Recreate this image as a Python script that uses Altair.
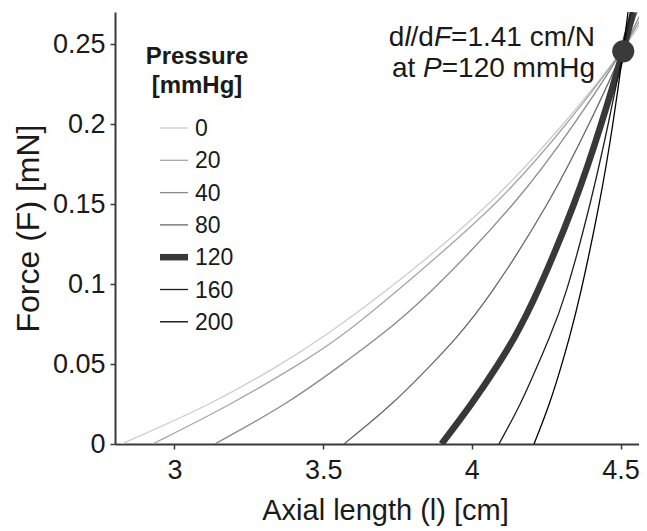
import altair as alt
import pandas as pd

# ---------------- data ----------------
pressures = ["0", "20", "40", "80", "120", "160", "200"]

len_0 = [2.821, 3.128, 3.360, 3.490, 3.758, 4.083, 4.310, 4.509, 4.590]
len_20 = [2.926, 3.195, 3.420, 3.550, 3.775, 4.105, 4.320, 4.509, 4.580]
len_40 = [3.135, 3.380, 3.565, 3.676, 3.842, 4.162, 4.345, 4.509, 4.570]
len_80 = [3.570, 3.735, 3.866, 3.943, 4.055, 4.268, 4.395, 4.509, 4.555]
len_120 = [3.898, 4.000, 4.090, 4.140, 4.212, 4.353, 4.436, 4.509, 4.542]
len_160 = [4.091, 4.165, 4.223, 4.258, 4.313, 4.403, 4.459, 4.509, 4.535]
len_200 = [4.209, 4.262, 4.303, 4.326, 4.362, 4.433, 4.475, 4.509, 4.525]

force_0 = [0, 0.025, 0.05, 0.0652, 0.1016, 0.1527, 0.2, 0.2454, 0.27]
force_20 = [0, 0.025, 0.05, 0.0652, 0.0996, 0.1527, 0.2, 0.2454, 0.27]
force_rest = [0, 0.025, 0.05, 0.0652, 0.0902, 0.1527, 0.2, 0.2454, 0.27]

point_len = [4.509]
point_force = [0.2454]

x_ticks = [3, 3.5, 4, 4.5]
y_ticks = [0, 0.05, 0.1, 0.15, 0.2, 0.25]

# ---------------- table ----------------
series = {
    "0": (len_0, force_0),
    "20": (len_20, force_20),
    "40": (len_40, force_rest),
    "80": (len_80, force_rest),
    "120": (len_120, force_rest),
    "160": (len_160, force_rest),
    "200": (len_200, force_rest),
}
rows = []
for p, (ls, fs) in series.items():
    for l, f in zip(ls, fs):
        rows.append({"P": p, "l": l, "F": f})
df = pd.DataFrame(rows)
pt = pd.DataFrame({"l": point_len, "F": point_force})

grays = ["#cdcdcd", "#a6a6a6", "#8a8a8a", "#666666", "#383838", "#1e1e1e", "#000000"]
THIN, THICK = 1.3, 6.5
HIGHLIGHT = "120"

FONT = "Liberation Sans"
TXT = "#1a1a1a"
AX = "#3a3a3a"

x_enc = alt.X("l:Q", scale=alt.Scale(domain=[2.8, 4.562], nice=False, zero=False),
              axis=alt.Axis(values=x_ticks, format="~g", title="Axial length (l) [cm]",
                            titleFontSize=29, titleFontWeight="normal", titleX=270, titleY=66,
                            titleBaseline="middle", titleAlign="center",
                            labelFontSize=27, labelPadding=8))
y_enc = alt.Y("F:Q", scale=alt.Scale(domain=[0, 0.27], nice=False),
              axis=alt.Axis(values=y_ticks, format="~g", title="Force (F) [mN]",
                            titleFontSize=32, titleFontWeight="normal", titleX=-87, titleY=216,
                            titleAngle=-90, titleBaseline="middle", titleAlign="center",
                            labelFontSize=27, labelPadding=5))

lines = alt.Chart(df).mark_line(interpolate="basis", clip=True).encode(
    x=x_enc,
    y=y_enc,
    color=alt.Color("P:N", scale=alt.Scale(domain=pressures, range=grays), legend=None),
    strokeWidth=alt.condition("datum.P === '%s'" % HIGHLIGHT, alt.value(THICK), alt.value(THIN)),
    order=alt.Order("F:Q"),
)

dot = alt.Chart(pt).mark_circle(size=490, opacity=1, color="#3a3a3a").encode(
    x="l:Q", y="F:Q")

# ---- legend (drawn as marks) ----
leg = []
leg.append(alt.Chart(pt).mark_text(text="Pressure", font=FONT, fontSize=24, fontWeight="bold",
                                   align="center", baseline="middle", color=TXT)
           .encode(x=alt.value(82), y=alt.value(45)))
leg.append(alt.Chart(pt).mark_text(text="[mmHg]", font=FONT, fontSize=24, fontWeight="bold",
                                   align="center", baseline="middle", color=TXT)
           .encode(x=alt.value(82), y=alt.value(74)))
for i, p in enumerate(pressures):
    yy = 116 + 32.3 * i
    leg.append(alt.Chart(pt).mark_rule(color=grays[i],
                                       strokeWidth=THICK if p == HIGHLIGHT else THIN)
               .encode(x=alt.value(45), x2=alt.value(73), y=alt.value(yy)))
    leg.append(alt.Chart(pt).mark_text(text=p, font=FONT, fontSize=23, align="left",
                                       baseline="middle", color=TXT)
               .encode(x=alt.value(80), y=alt.value(yy + 1)))

# ---- annotation with italic letters ----
W = {"d": .556, "l": .222, "/": .278, "F": .611, "=": .584, "1": .556, ".": .278,
     "4": .556, " ": .278, "c": .5, "m": .833, "N": .722, "a": .556, "t": .278,
     "P": .667, "2": .556, "0": .556, "H": .722, "g": .556}
FS = 28


def segs(parts, x_right, y0):
    total = sum(sum(W[c] for c in t) for t, _ in parts) * FS
    out = []
    x = x_right - total
    for text, ital in parts:
        out.append(alt.Chart(pt).mark_text(text=text, font=FONT, fontSize=FS, align="left",
                                           baseline="alphabetic", color=TXT,
                                           fontStyle="italic" if ital else "normal")
                   .encode(x=alt.value(x), y=alt.value(y0)))
        x += sum(W[c] for c in text) * FS
    return out


ann = segs([("d", False), ("l", True), ("/d", False), ("F", True), ("=1.41 cm/N", False)], 480, 34)
ann += segs([("at ", False), ("P", True), ("=120 mmHg", False)], 480, 65)

chart = alt.layer(lines, dot, *leg, *ann).properties(
    width=524, height=432,
    padding={"left": 107, "top": 4, "right": 0, "bottom": 85},
    autosize=alt.AutoSizeParams(type="none"),
).configure(font=FONT).configure_view(stroke=None).configure_axis(
    grid=False, domainColor=AX, domainWidth=2, tickColor=AX, tickWidth=1.5, tickSize=5,
    labelColor=TXT, titleColor=TXT, labelFont=FONT, titleFont=FONT,
)

chart.save("out.html", embed_options={"renderer": "svg", "actions": False})
